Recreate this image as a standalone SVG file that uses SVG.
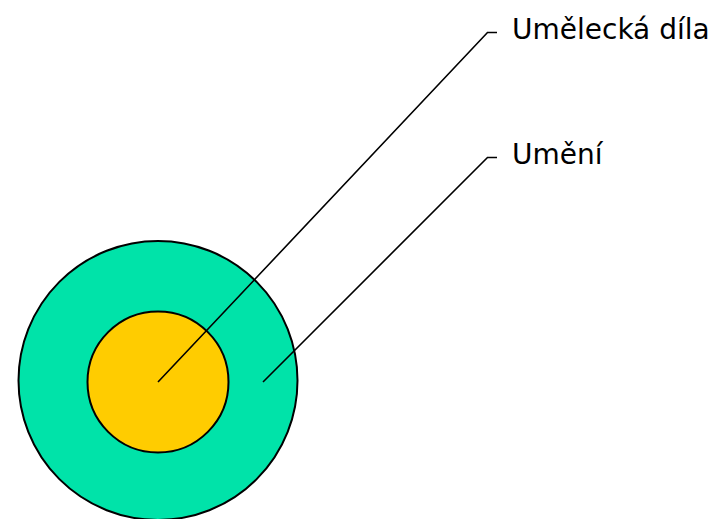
<svg xmlns="http://www.w3.org/2000/svg" width="712" height="519" viewBox="0 0 712 519">
<style>
.ring{stroke:#000;stroke-width:2}
.lead{fill:none;stroke:#000;stroke-width:1.6}
.lbl{font-family:"DejaVu Sans","Verdana",sans-serif;font-size:28px;fill:#000}
</style>
<rect width="712" height="519" fill="#fff"/>
<g id="umeni">
<circle class="ring" cx="158" cy="380.5" r="139.5" fill="#00E3A9"/>
</g>
<g id="umelecka-dila">
<circle class="ring" cx="158" cy="382" r="70.5" fill="#FFCC00"/>
</g>
<g id="connectors">
<polyline class="lead" points="158,382 487.5,32.5 497,32.5"/>
<polyline class="lead" points="263,382 487.5,157.5 497,157.5"/>
</g>
<g id="label-dila"><text class="lbl" x="512" y="39">Umělecká díla</text></g>
<g id="label-umeni"><text class="lbl" x="512" y="163.5">Umění</text></g>
</svg>
